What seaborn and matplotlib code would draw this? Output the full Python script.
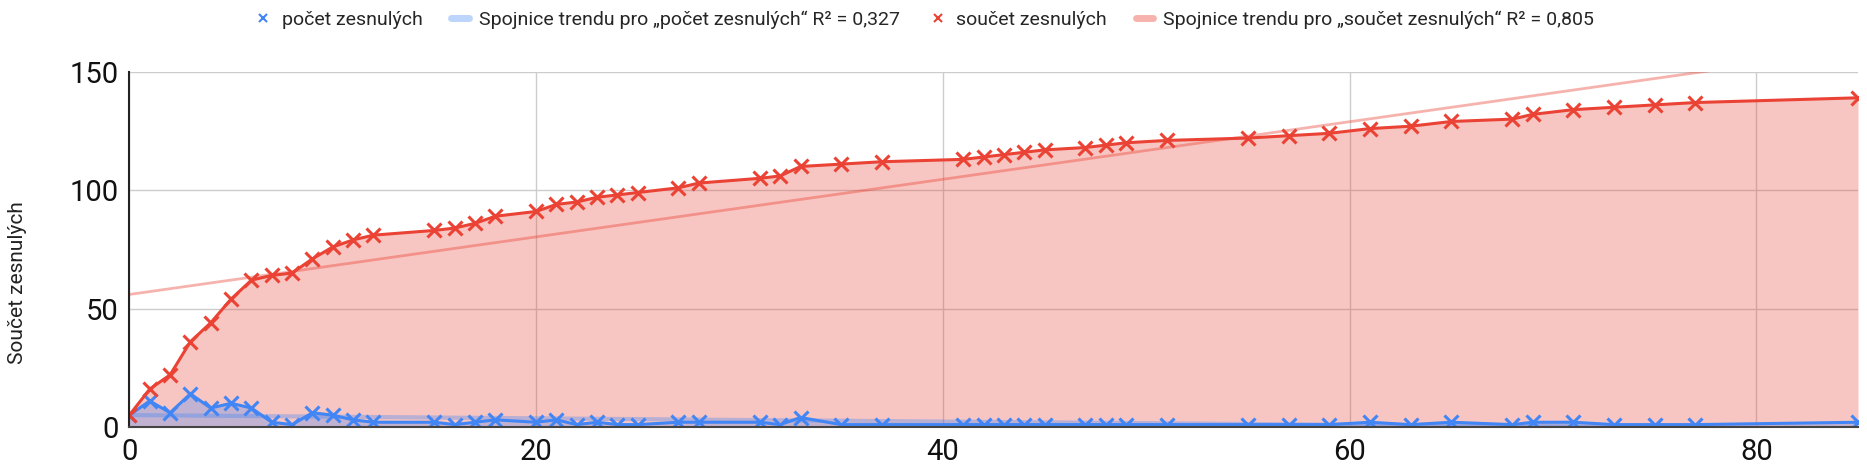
import numpy as np
import pandas as pd
import matplotlib
matplotlib.use('Agg')
import matplotlib.pyplot as plt
from matplotlib.lines import Line2D
import seaborn as sns

# data
den = [0, 1, 2, 3, 4, 5, 6, 7, 8, 9, 10, 11, 12, 15, 16, 17, 18, 20, 21, 22,
       23, 24, 25, 27, 28, 31, 32, 33, 35, 37, 41, 42, 43, 44, 45, 47, 48, 49,
       51, 55, 57, 59, 61, 63, 65, 68, 69, 71, 73, 75, 77, 85]
pocet = [5, 11, 6, 14, 8, 10, 8, 2, 1, 6, 5, 3, 2, 2, 1, 2, 3, 2, 3, 1,
         2, 1, 1, 2, 2, 2, 1, 4, 1, 1, 1, 1, 1, 1, 1, 1, 1, 1,
         1, 1, 1, 1, 2, 1, 2, 1, 2, 2, 1, 1, 1, 2]
soucet = [5, 16, 22, 36, 44, 54, 62, 64, 65, 71, 76, 79, 81, 83, 84, 86, 89, 91, 94, 95,
          97, 98, 99, 101, 103, 105, 106, 110, 111, 112, 113, 114, 115, 116, 117, 118, 119, 120,
          121, 122, 123, 124, 126, 127, 129, 130, 132, 134, 135, 136, 137, 139]

legend_labels = ['počet zesnulých',
                 'Spojnice trendu pro \u201epočet zesnulých\u201c R² = 0,327',
                 'součet zesnulých',
                 'Spojnice trendu pro \u201esoučet zesnulých\u201c R² = 0,805']

df = pd.DataFrame({'den': den, 'počet zesnulých': pocet, 'součet zesnulých': soucet})

RED = '#EA4335'
BLUE = '#4285F4'

sns.set_theme(style='white')
plt.rcParams['font.family'] = ['Roboto', 'DejaVu Sans']

fig = plt.figure(figsize=(18.67, 4.69), dpi=100)
ax = fig.add_axes([0.0693, 0.0896, 0.9259, 0.7574])
ax.set_xlim(0, 85)
ax.set_ylim(0, 150)

# areas
ax.fill_between(df['den'], df['součet zesnulých'], color=RED, alpha=0.3, lw=0)
ax.fill_between(df['den'], df['počet zesnulých'], color=BLUE, alpha=0.3, lw=0)

# trend lines
sns.regplot(data=df, x='den', y='počet zesnulých', scatter=False, ci=None,
            truncate=False, ax=ax, line_kws=dict(color=BLUE, alpha=0.35, lw=3))
sns.regplot(data=df, x='den', y='součet zesnulých', scatter=False, ci=None,
            truncate=False, ax=ax, line_kws=dict(color=RED, alpha=0.4, lw=2))

# series
sns.lineplot(data=df, x='den', y='počet zesnulých', color=BLUE, lw=2.2,
             marker='x', markersize=10, markeredgewidth=2.2, markeredgecolor=BLUE, ax=ax)
sns.lineplot(data=df, x='den', y='součet zesnulých', color=RED, lw=2.2,
             marker='x', markersize=10, markeredgewidth=2.2, markeredgecolor=RED, ax=ax)

ax.set_xlim(0, 85)
ax.set_ylim(0, 150)
ax.set_xticks([0, 20, 40, 60, 80])
ax.set_yticks([0, 50, 100, 150])
ax.grid(True, color='#cccccc', lw=1)
ax.tick_params(length=0, labelsize=21, colors='#111111', pad=8)
ax.set_xlabel('')
ax.set_ylabel('Součet zesnulých', fontsize=15, color='#222222')
ax.yaxis.set_label_coords(-0.059, 0.405)

for s in ['top', 'right']:
    ax.spines[s].set_visible(False)
ax.spines['left'].set_color('#222222')
ax.spines['left'].set_linewidth(1.5)
ax.spines['bottom'].set_color('#444444')
ax.spines['bottom'].set_linewidth(1.5)

handles = [
    Line2D([], [], ls='none', marker='x', color=BLUE, markersize=6, markeredgewidth=1.5),
    Line2D([], [], color=BLUE, alpha=0.35, lw=5),
    Line2D([], [], ls='none', marker='x', color=RED, markersize=6, markeredgewidth=1.5),
    Line2D([], [], color=RED, alpha=0.4, lw=5),
]
fig.legend(handles, legend_labels, loc='upper center', bbox_to_anchor=(0.495, 1.015),
           ncol=4, frameon=False, fontsize=14, handlelength=0.9, handletextpad=0.5,
           columnspacing=1.5)

fig.savefig('out.png', dpi=100)
